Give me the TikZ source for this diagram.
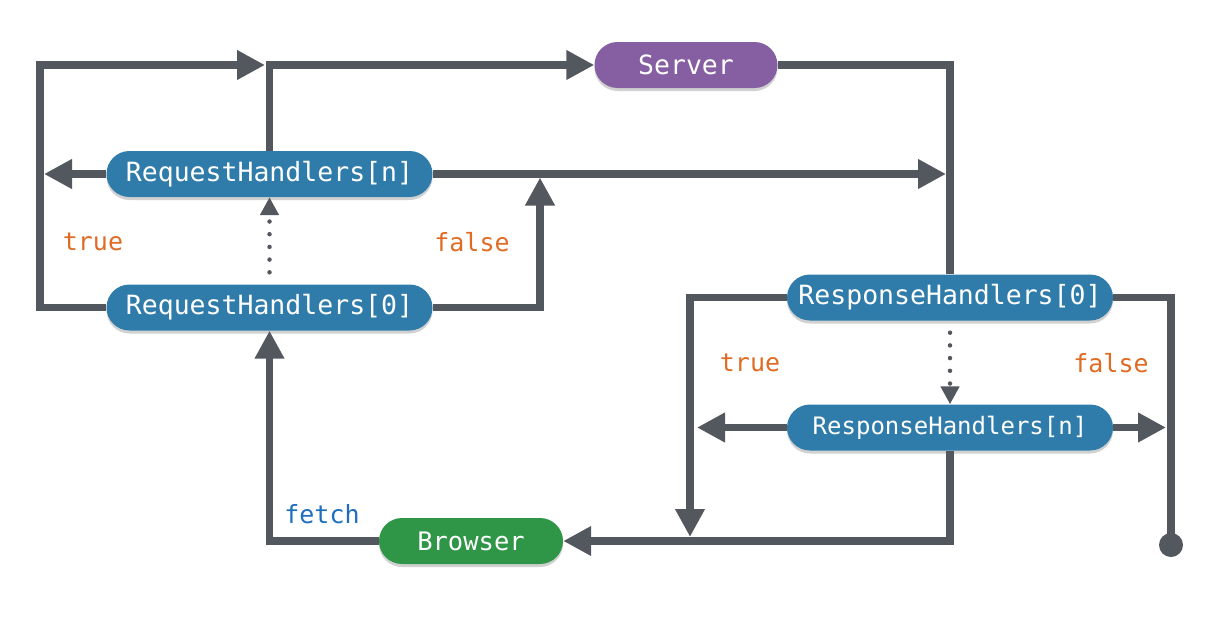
\documentclass[tikz,border=0pt]{standalone}
\usepackage{fontspec}
\setmonofont{DejaVu Sans Mono}
\usetikzlibrary{arrows.meta,shadows}
\definecolor{lineg}{RGB}{83,87,94}
\definecolor{nblue}{RGB}{47,124,171}
\definecolor{npurple}{RGB}{134,94,162}
\definecolor{ngreen}{RGB}{46,150,70}
\definecolor{lorange}{RGB}{222,108,36}
\definecolor{lblue}{RGB}{30,110,190}
\begin{document}
\begin{tikzpicture}[x=1pt,y=-1pt,
  pill/.style={rectangle, rounded corners=23pt, minimum height=46pt, text=white,
    inner sep=0pt, font=\ttfamily\fontsize{26.5pt}{30pt}\selectfont,
    drop shadow={shadow xshift=0pt, shadow yshift=-3pt, opacity=0.18, fill=black}},
  bluep/.style={pill, fill=nblue, minimum width=326pt},
  conn/.style={draw=lineg, line width=7.5pt, line join=miter,
    -{Triangle[length=28pt,width=28pt]}},
  plain/.style={draw=lineg, line width=7.5pt, line join=miter},
  dotconn/.style={draw=lineg, line width=4.5pt, line cap=round,
    dash pattern=on 0pt off 12.7pt, shorten <=12pt,
    -{Triangle[length=18pt,width=18pt]}},
  lab/.style={font=\ttfamily\fontsize{25pt}{28pt}\selectfont, text=lorange, inner sep=0pt},
]
\useasboundingbox (0,0) rectangle (1226,616);

% nodes
\node[pill, fill=npurple, minimum width=183pt] (server) at (686,65) {Server};
\node[bluep] (rqn) at (269.5,174) {RequestHandlers[n]};
\node[bluep] (rq0) at (269.5,307.5) {RequestHandlers[0]};
\node[bluep] (rs0) at (950,297.5) {ResponseHandlers[0]};
\node[bluep, font=\ttfamily\fontsize{24pt}{28pt}\selectfont] (rsn) at (950,427.5) {ResponseHandlers[n]};
\node[pill, fill=ngreen, minimum width=184pt, font=\ttfamily\fontsize{25.5pt}{30pt}\selectfont] (browser) at (471,541) {Browser};

% free ends
\coordinate (tlA) at (265,65);
\coordinate (lA) at (44,174);
\coordinate (rA) at (946,174);
\coordinate (fA) at (540,177.5);
\coordinate (rsL) at (697,427.5);
\coordinate (rsR) at (1166,427.5);
\coordinate (tdA) at (690,537);
\coordinate (endp) at (1171,545);

% request side
\draw[conn] (rq0.west) -- (40,307.5) -- (40,65) -- (tlA);
\draw[conn] (rqn.north) -- (269.5,65) -- (server.west);
\draw[conn] (rqn.west) -- (lA);
\draw[conn] (rqn.east) -- (rA);
\draw[conn] (rq0.east) -- (540,307.5) -- (fA);
\draw[dotconn] (rq0.north) -- (rqn.south);

% response side
\draw[plain] (server.east) -- (950,65) -- (rs0.north);
\draw[conn] (rs0.west) -- (690,297.5) -- (tdA);
\draw[plain] (rs0.east) -- (1171,297.5) -- (endp);
\fill[lineg] (endp) circle (12pt);
\draw[dotconn] (rs0.south) -- (rsn.north);
\draw[conn] (rsn.west) -- (rsL);
\draw[conn] (rsn.east) -- (rsR);
\draw[conn] (rsn.south) -- (950,541) -- (browser.east);
\draw[conn] (browser.west) -- (269.5,541) -- (rq0.south);

% labels
\node[lab] (t1) at (93,242) {true};
\node[lab] (f1) at (472,242) {false};
\node[lab] (t2) at (750,363) {true};
\node[lab] (f2) at (1111,363) {false};
\node[lab, text=lblue] (fe) at (322,514) {fetch};
\end{tikzpicture}
\end{document}
